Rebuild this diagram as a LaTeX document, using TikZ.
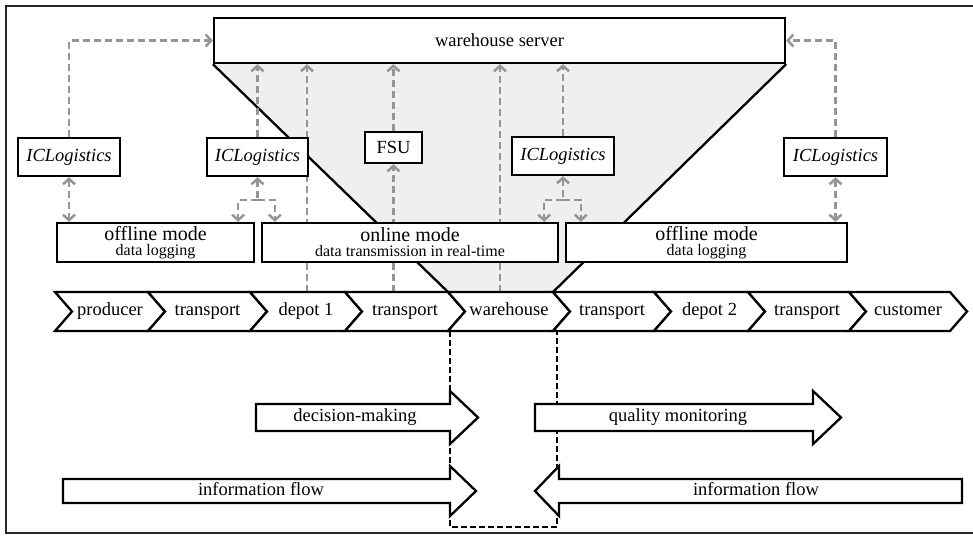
\documentclass[tikz,border=0pt]{standalone}
\usepackage{fontspec}
\setmainfont{Liberation Serif}
\usepackage{xcolor}
\usetikzlibrary{arrows.meta,calc,positioning,backgrounds}
\definecolor{linkgray}{HTML}{959595}
\definecolor{funnelgray}{HTML}{EFEFEF}
\newcommand{\mainsize}{\fontsize{18.5}{20}\selectfont}
\newcommand{\modesize}{\fontsize{20}{20}\selectfont}
\newcommand{\subsize}{\fontsize{16}{16}\selectfont}
\pgfdeclarelayer{bg}
\pgfdeclarelayer{mid}
\pgfsetlayers{bg,mid,main}
\tikzset{sbox/.style={draw=black, line width=2.3pt, fill=white, inner sep=0pt, font=\mainsize}}
\tikzset{mbox/.style={sbox, minimum height=39pt, align=center, font=\modesize}}
\tikzset{ibox/.style={sbox, minimum width=102pt, minimum height=38pt, font=\mainsize\itshape}}
\tikzset{link/.style={draw=linkgray, line width=2.5pt, dash pattern=on 7pt off 4pt, >={Straight Barb[length=5.5pt,width=12pt]}}}
\tikzset{stage/.style={draw=black, line width=2.3pt, fill=white, line join=miter}}
\tikzset{label/.style={font=\mainsize, text height=12pt, text depth=4pt, inner sep=0pt}}
\tikzset{bigarrow/.style={draw=black, line width=2.3pt, fill=white, line join=miter}}
\tikzset{loopline/.style={draw=black, line width=2.2pt, dash pattern=on 6pt off 3pt}}

\begin{document}
\begin{tikzpicture}[x=1pt, y=-1pt]
    \useasboundingbox (0,0) rectangle (973,536);
    \draw[line width=1.8pt, black!85] (973,6) -- (6,6) -- (6,533) -- (973,533);

    % server and data loggers
    \node[sbox, minimum width=571pt, minimum height=45pt] (srv) at (499.5,40.5) {warehouse server};
    \node[ibox] (ic1) at (69,157) {ICLogistics};
    \node[ibox, minimum width=101pt] (ic2) at (257.5,157) {ICLogistics};
    \node[ibox] (ic3) at (563,156) {ICLogistics};
    \node[ibox, minimum width=103pt] (ic4) at (835.5,157) {ICLogistics};
    \node[sbox, minimum width=57pt, minimum height=31pt] (fsu) at (393.5,147.5) {FSU};

    % modes
    \node[mbox, minimum width=197pt] (off1) at (155.5,242.5) {offline mode\\[-5pt]{\subsize data logging}};
    \node[mbox, minimum width=296pt] (on) at (410,242.5) {online mode\\[-5pt]{\subsize data transmission in real-time}};
    \node[mbox, minimum width=281pt] (off2) at (706.5,242.5) {offline mode\\[-5pt]{\subsize data logging}};

    % supply chain
    \foreach \l/\r/\txt [count=\i] in {55/148/producer, 148/250/transport, 250/345/depot 1, 345/448/transport, 448/553/warehouse, 553/654/transport, 654/748/depot 2, 748/849/transport, 849/950/customer} {
        \draw[stage] (\l,292) -- (\r,292) -- ++(17,19.5) -- (\r,331) -- (\l,331) -- ++(17,-19.5) -- cycle;
        \node[label] (st\i) at ({(\l+\r)/2+8.5},311.5) {\txt};
    }
    \coordinate (whl) at (448,292);
    \coordinate (whr) at (553,292);
    \coordinate (tap1) at (307,292);
    \coordinate (tap2) at (500,292);

    % flows
    \draw[bigarrow] (256,404) -- (450,404) -- (450,391) -- (478,417.5) -- (450,444) -- (450,431) -- (256,431) -- cycle;
    \node[label] (dm) at (355,417.5) {decision-making};
    \draw[bigarrow] (535,404) -- (813,404) -- (813,391) -- (841,417.5) -- (813,444) -- (813,431) -- (535,431) -- cycle;
    \node[label] (qm) at (678,417.5) {quality monitoring};
    \draw[bigarrow] (63,479) -- (450,479) -- (450,466) -- (476,491) -- (450,516) -- (450,503) -- (63,503) -- cycle;
    \node[label] (if1) at (261,491) {information flow};
    \draw[bigarrow] (962,479) -- (559,479) -- (559,466) -- (535,491) -- (559,516) -- (559,503) -- (962,503) -- cycle;
    \node[label] (if2) at (756,491) {information flow};

    \begin{pgfonlayer}{mid}
        \draw[link,->] (ic1.north) |- (srv.west);
        \draw[link,->] (ic4.north) |- (srv.east);
        \draw[link,->] (ic2.north) -- (ic2.north |- srv.south);
        \draw[link,->] (ic3.north) -- (ic3.north |- srv.south);
        \draw[link,->] (fsu.north) -- (fsu.north |- srv.south);
        \draw[link,->] (fsu.south |- whl) -- (fsu.south);
        \draw[link,->] (tap1) -- (tap1 |- srv.south);
        \draw[link,->] (tap2) -- (tap2 |- srv.south);
        \draw[link,<->] (ic1.south) -- (ic1.south |- off1.north);
        \draw[link,<->] (ic4.south) -- (ic4.south |- off2.north);
        \draw[link,<-] (ic2.south) -- ++(0,23) coordinate (sp2);
        \draw[link,->] (sp2) -| ($(off1.north east)+(-17,0)$);
        \draw[link,->] (sp2) -| ($(on.north west)+(14,0)$);
        \draw[link,<-] (ic3.south) -- ++(0,24) coordinate (sp3);
        \draw[link,->] (sp3) -| ($(on.north east)+(-15,0)$);
        \draw[link,->] (sp3) -| ($(off2.north west)+(16,0)$);
        \draw[loopline] (450,331) rectangle (557,527);
    \end{pgfonlayer}

    \begin{pgfonlayer}{bg}
        \fill[funnelgray] (srv.south west) -- (srv.south east) -- (whr) -- (whl) -- cycle;
        \draw[line width=2.3pt] (srv.south west) -- (whl);
        \draw[line width=2.3pt] (srv.south east) -- (whr);
    \end{pgfonlayer}
\end{tikzpicture}
\end{document}
